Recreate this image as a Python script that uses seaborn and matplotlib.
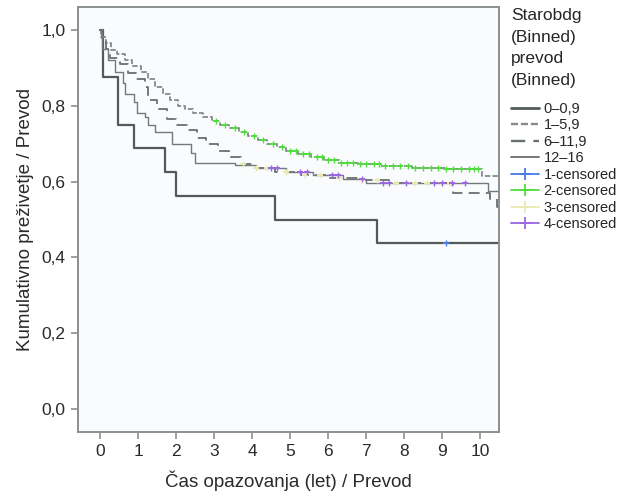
import numpy as np
import pandas as pd
import matplotlib
matplotlib.use("Agg")
import matplotlib.pyplot as plt
from matplotlib.lines import Line2D
import seaborn as sns

# Kaplan-Meier step curves per age group (time in years, cumulative survival)
group_labels = ["0–0,9", "1–5,9", "6–11,9", "12–16"]

times_a = [0, 0.08, 0.47, 0.9, 1.7, 2.0, 4.6, 7.3, 10.5]
surv_a = [1.0, 0.875, 0.75, 0.6875, 0.625, 0.5625, 0.5, 0.4375, 0.4375]

times_b = [0, 0.03, 0.15, 0.3, 0.45, 0.66, 0.85, 1.08, 1.25, 1.45, 1.65, 1.84,
           2.05, 2.24, 2.45, 2.7, 2.95, 3.16, 3.4, 3.65, 3.9, 4.15, 4.4, 4.65,
           4.9, 5.2, 5.55, 5.9, 6.3, 6.8, 7.4, 8.2, 9.1, 10.05, 10.5]
surv_b = [1.0, 0.98, 0.965, 0.947, 0.935, 0.92, 0.905, 0.89, 0.87, 0.85, 0.83,
          0.815, 0.80, 0.79, 0.78, 0.77, 0.76, 0.75, 0.74, 0.73, 0.72, 0.71,
          0.70, 0.69, 0.68, 0.672, 0.665, 0.657, 0.65, 0.645, 0.64, 0.636,
          0.632, 0.615, 0.615]

times_c = [0, 0.05, 0.15, 0.26, 0.53, 0.74, 0.95, 1.18, 1.26, 1.5, 1.76, 2.0,
           2.3, 2.55, 2.8, 3.1, 3.4, 3.7, 4.0, 4.6, 5.3, 6.0, 6.8, 7.6, 9.3,
           10.25, 10.45, 10.5]
surv_c = [1.0, 0.97, 0.95, 0.926, 0.91, 0.886, 0.87, 0.85, 0.815, 0.79, 0.765,
          0.75, 0.735, 0.715, 0.70, 0.68, 0.665, 0.646, 0.635, 0.625, 0.617,
          0.61, 0.603, 0.597, 0.57, 0.553, 0.533, 0.533]

times_d = [0, 0.05, 0.2, 0.4, 0.6, 0.66, 0.9, 0.97, 1.18, 1.26, 1.45, 1.9, 2.4,
           2.5, 3.55, 4.1, 4.9, 5.6, 6.4, 7.0, 10.2, 10.5]
surv_d = [1.0, 0.95, 0.92, 0.89, 0.86, 0.83, 0.81, 0.78, 0.77, 0.75, 0.73,
          0.70, 0.675, 0.65, 0.643, 0.636, 0.625, 0.617, 0.607, 0.596, 0.575,
          0.575]

# censoring times per group
censor_a = [9.1]
censor_b = [3.05, 3.3, 3.55, 3.8, 4.05, 4.3, 4.55, 4.8, 5.0, 5.15, 5.35, 5.5,
            5.7, 5.85, 6.0, 6.15, 6.35, 6.5, 6.65, 6.85, 7.0, 7.2, 7.35, 7.5,
            7.7, 7.9, 8.1, 8.3, 8.5, 8.7, 8.9, 9.1, 9.3, 9.5, 9.7, 9.85, 9.95]
censor_c = [3.75, 4.1, 4.4, 4.9, 5.4, 5.8, 6.3, 6.9, 7.3, 7.8, 8.3, 8.6, 9.0, 9.2]
censor_d = [4.5, 4.65, 5.25, 5.45, 6.1, 6.25, 6.9, 7.45, 7.6, 8.05, 8.8, 9.0,
            9.25, 9.6]

censor_labels = ["1-censored", "2-censored", "3-censored", "4-censored"]
x_ticks = [0, 1, 2, 3, 4, 5, 6, 7, 8, 9, 10]
y_ticks = [0.0, 0.2, 0.4, 0.6, 0.8, 1.0]
y_tick_labels = ["0,0", "0,2", "0,4", "0,6", "0,8", "1,0"]

sns.set_theme(style="white")
plt.rcParams["font.family"] = ["Liberation Sans", "DejaVu Sans"]

curves = [(times_a, surv_a, censor_a), (times_b, surv_b, censor_b),
          (times_c, surv_c, censor_c), (times_d, surv_d, censor_d)]
line_colors = ["#545a5a", "#858a8a", "#6a6f6f", "#747979"]
line_widths = [1.6, 1.3, 1.3, 1.0]
line_styles = ["-", (0, (3, 1.2)), (0, (6, 3.5)), "-"]
censor_colors = ["#4a7be8", "#52dc40", "#e9ebb0", "#9b66e2"]

fig = plt.figure(figsize=(6.22, 4.92), dpi=100)
ax = fig.add_axes([78 / 622, 1 - 432 / 492, 421 / 622, 425 / 492])
ax.set_facecolor("#f9fbfc")

for i, (t, s, cens) in enumerate(curves):
    df = pd.DataFrame({"time": t, "survival": s})
    sns.lineplot(data=df, x="time", y="survival", estimator=None, sort=False,
                 drawstyle="steps-post", color=line_colors[i],
                 linewidth=line_widths[i], linestyle=line_styles[i], ax=ax)

for i, (t, s, cens) in enumerate(curves):
    idx = np.searchsorted(np.asarray(t), np.asarray(cens), side="right") - 1
    cdf = pd.DataFrame({"time": cens, "survival": np.asarray(s)[idx]})
    sns.scatterplot(data=cdf, x="time", y="survival", marker="|", s=18,
                    color=censor_colors[i], linewidth=1.0, ax=ax, zorder=3)
    sns.scatterplot(data=cdf, x="time", y="survival", marker="_", s=22,
                    color=censor_colors[i], linewidth=1.4, ax=ax, zorder=3)

ax.set_xlim(-0.58, 10.5)
ax.set_ylim(-0.06, 1.06)
ax.set_xticks(x_ticks)
ax.set_xticklabels([str(v) for v in x_ticks])
ax.set_yticks(y_ticks)
ax.set_yticklabels(y_tick_labels)
ax.tick_params(axis="both", which="major", direction="out", length=5,
               width=1.2, color="#8a9090", labelsize=12.5, labelcolor="#2a2a2a",
               bottom=True, left=True, pad=4)
for sp in ax.spines.values():
    sp.set_color("#8a9090")
    sp.set_linewidth(1.4)
ax.set_xlabel("Čas opazovanja (let) / Prevod", fontsize=13.5, color="#2a2a2a",
              labelpad=8)
ax.set_ylabel("Kumulativno preživetje / Prevod", fontsize=13.5, color="#2a2a2a",
              labelpad=5)

handles = []
for i in range(4):
    handles.append(Line2D([], [], color=line_colors[i], linewidth=line_widths[i] + 0.4,
                          linestyle=line_styles[i]))
for i in range(4):
    handles.append(Line2D([], [], color=censor_colors[i], linewidth=1.3,
                          marker="+", markersize=9, markeredgewidth=1.3))
leg = fig.legend(handles, group_labels + censor_labels,
                 title="Starobdg\n(Binned)\nprevod\n(Binned)",
                 loc="upper left", bbox_to_anchor=(0.812, 0.995),
                 frameon=False, fontsize=10.5, title_fontsize=12.5,
                 handlelength=1.9, handletextpad=0.35, labelspacing=0.17,
                 borderaxespad=0.0)
leg._legend_box.align = "left"
leg._legend_box.sep = 10
leg.get_title().set_linespacing(1.55)

fig.savefig("out.png", dpi=100, facecolor="white")
